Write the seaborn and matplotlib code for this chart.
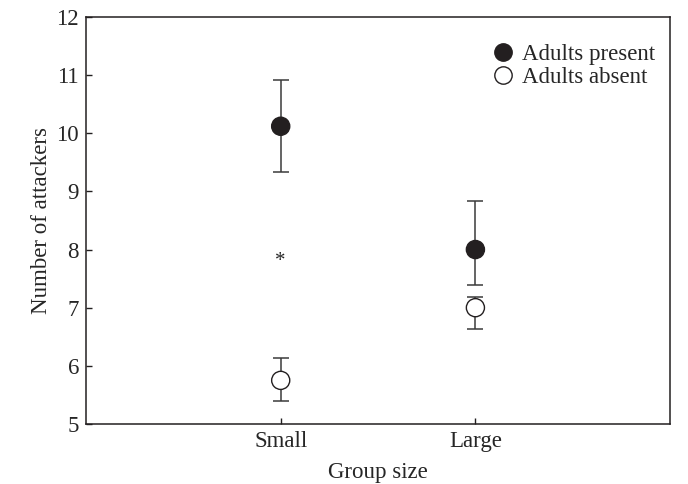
import pandas as pd
import matplotlib
matplotlib.use("Agg")
import matplotlib.pyplot as plt
import seaborn as sns

groups = ["Small", "Large"]
present_mean = [10.12, 8.0]
present_lo = [9.34, 7.39]
present_hi = [10.91, 8.83]
absent_mean = [5.75, 7.0]
absent_lo = [5.39, 6.63]
absent_hi = [6.14, 7.18]

df = pd.DataFrame({
    "group": groups * 2,
    "mean": present_mean + absent_mean,
    "lo": present_lo + absent_lo,
    "hi": present_hi + absent_hi,
    "adults": ["Adults present"] * 2 + ["Adults absent"] * 2,
})

sns.set_theme(style="ticks")
plt.rcParams["font.family"] = ["Liberation Serif", "DejaVu Serif"]

fig = plt.figure(figsize=(6.88, 4.84), dpi=100)
ax = fig.add_axes([0.125, 0.124, 0.849, 0.841])

# error bars first, markers on top
for _, r in df.iterrows():
    ax.errorbar(r["group"], r["mean"],
                yerr=[[r["mean"] - r["lo"]], [r["hi"] - r["mean"]]],
                fmt="none", ecolor="#3a3a3a", elinewidth=1.1,
                capsize=6, capthick=1.1, zorder=1)

sns.scatterplot(data=df, x="group", y="mean", hue="adults",
                palette={"Adults present": "#231f20", "Adults absent": "white"},
                edgecolor="#231f20", linewidth=1.0, s=170, zorder=3, ax=ax)

ax.text("Small", 7.8, "*", ha="center", va="center", fontsize=15)

ax.set_xlim(-1, 2)
ax.set_ylim(5, 12)
ax.set_yticks(range(5, 13))
ax.set_xlabel("Group size", fontsize=16.5, labelpad=7)
ax.set_ylabel("Number of attackers", fontsize=16.5, labelpad=3)
ax.tick_params(direction="in", labelsize=16.5, length=4, width=1,
               color="#231f20", pad=5)
for s in ax.spines.values():
    s.set_linewidth(1.1)
    s.set_color("#231f20")

leg = ax.legend(loc="upper right", frameon=False, fontsize=16.5,
                handletextpad=0.25, borderaxespad=0.0, labelspacing=0.05,
                handlelength=1.2, bbox_to_anchor=(0.99, 0.955))
for h in leg.legend_handles:
    h.set_markeredgecolor("#231f20")
    h.set_markersize(12.5)

fig.savefig("out.png", dpi=100)
